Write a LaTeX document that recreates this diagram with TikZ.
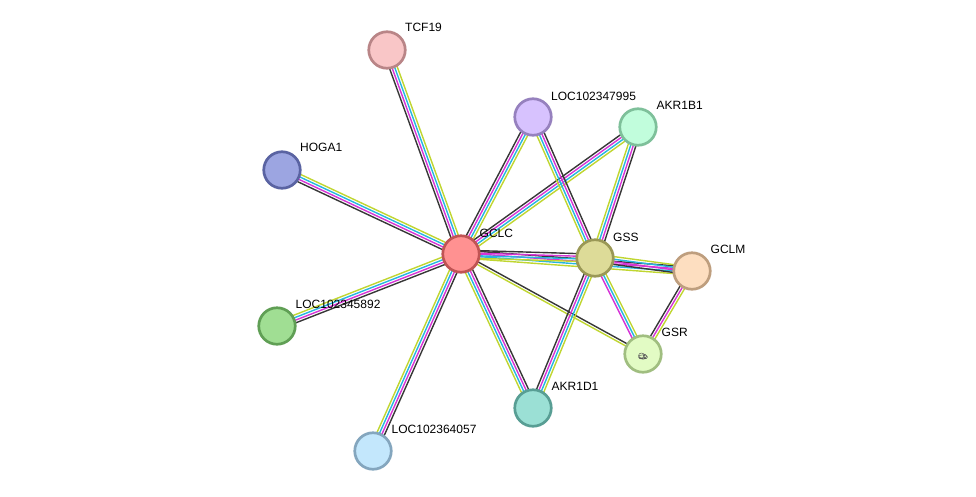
\documentclass[tikz,border=0pt]{standalone}
\usepackage{fontspec}
\setmainfont{Liberation Sans}
\usetikzlibrary{calc}
\pgfdeclarelayer{canvasbg}
\pgfdeclarelayer{edgelayer}
\pgfsetlayers{canvasbg,edgelayer,main}
\definecolor{ecoex}{RGB}{55,55,55}
\definecolor{eexp}{RGB}{214,52,214}
\definecolor{edb}{RGB}{38,182,224}
\definecolor{etext}{RGB}{192,214,48}
\tikzset{
  prot/.style={circle, line width=2.7pt, minimum size=36.5pt, inner sep=0pt},
  lbl/.style={anchor=west, inner sep=0pt, font=\fontsize{12pt}{14pt}\selectfont, text=black},
  edgeline/.style={line width=1.4pt},
}
\newcommand\stredge[3]{%
  \foreach \cc [count=\ii] in {#3} {\xdef\nnedge{\ii}}%
  \foreach \cc [count=\ii] in {#3} {%
    \pgfmathsetmacro\offe{(\ii-(\nnedge+1)/2)*2.6}%
    \draw[edgeline,\cc] ($(#1.center)!\offe pt!90:(#2.center)$) -- ($(#2.center)!\offe pt!-90:(#1.center)$);
  }}
\begin{document}
\begin{tikzpicture}[x=1pt,y=-1pt]
\begin{pgfonlayer}{canvasbg}
\fill[white] (0,0) rectangle (976,496);
\end{pgfonlayer}
\useasboundingbox (0,0) rectangle (976,496);
% nodes
\node[prot, fill={rgb,255:red,255;green,145;blue,145}, draw={rgb,255:red,192;green,84;blue,84}] (GCLC) at (461,254) {};
\node[prot, fill={rgb,255:red,221;green,219;blue,152}, draw={rgb,255:red,154;green,152;blue,86}] (GSS) at (595,258) {};
\node[prot, fill={rgb,255:red,253;green,222;blue,192}, draw={rgb,255:red,190;green,158;blue,126}] (GCLM) at (692,271) {};
\node[prot, fill={rgb,255:red,226;green,251;blue,196}, draw={rgb,255:red,160;green,190;blue,128}] (GSR) at (643,354) {};
\node[prot, fill={rgb,255:red,155;green,224;blue,213}, draw={rgb,255:red,88;green,158;blue,148}] (AKR1D1) at (533,408) {};
\node[prot, fill={rgb,255:red,193;green,253;blue,220}, draw={rgb,255:red,126;green,192;blue,154}] (AKR1B1) at (638,127) {};
\node[prot, fill={rgb,255:red,215;green,194;blue,254}, draw={rgb,255:red,150;green,129;blue,190}] (L7995) at (533,117) {};
\node[prot, fill={rgb,255:red,249;green,198;blue,199}, draw={rgb,255:red,185;green,133;blue,135}] (TCF19) at (387,50) {};
\node[prot, fill={rgb,255:red,156;green,165;blue,225}, draw={rgb,255:red,90;green,99;blue,162}] (HOGA1) at (282,170) {};
\node[prot, fill={rgb,255:red,160;green,222;blue,147}, draw={rgb,255:red,96;green,159;blue,85}] (L5892) at (277,326) {};
\node[prot, fill={rgb,255:red,195;green,231;blue,252}, draw={rgb,255:red,132;green,166;blue,190}] (L4057) at (373,451) {};
% GSR structure icon
\draw[gray!70!black, line width=0.45pt] (643,357) ellipse (4.5 and 2.2) (641.5,355.5) ellipse (3 and 2.5) (645,356) circle (1.8) (639,358.5) -- (647,358);
% labels
\node[lbl] (GCLC-l) at ($(GCLC)+(18.5,-21)$) {GCLC};
\node[lbl] (GSS-l) at ($(GSS)+(18,-21)$) {GSS};
\node[lbl] (GCLM-l) at ($(GCLM)+(18.5,-22)$) {GCLM};
\node[lbl] (GSR-l) at ($(GSR)+(18.5,-22)$) {GSR};
\node[lbl] (AKR1D1-l) at ($(AKR1D1)+(18.5,-22)$) {AKR1D1};
\node[lbl] (AKR1B1-l) at ($(AKR1B1)+(18.5,-22)$) {AKR1B1};
\node[lbl] (L7995-l) at ($(L7995)+(18,-21)$) {LOC102347995};
\node[lbl] (TCF19-l) at ($(TCF19)+(18,-22.5)$) {TCF19};
\node[lbl] (HOGA1-l) at ($(HOGA1)+(18,-22.5)$) {HOGA1};
\node[lbl] (L5892-l) at ($(L5892)+(18.5,-22)$) {LOC102345892};
\node[lbl] (L4057-l) at ($(L4057)+(18.5,-22)$) {LOC102364057};
% edges
\begin{pgfonlayer}{edgelayer}
\stredge{TCF19}{GCLC}{ecoex,eexp,edb,etext}
\stredge{HOGA1}{GCLC}{ecoex,eexp,edb,etext}
\stredge{L5892}{GCLC}{ecoex,eexp,edb,etext}
\stredge{L4057}{GCLC}{ecoex,eexp,edb,etext}
\stredge{AKR1D1}{GCLC}{ecoex,eexp,edb,etext}
\stredge{L7995}{GCLC}{ecoex,eexp,edb,etext}
\stredge{AKR1B1}{GCLC}{ecoex,eexp,edb,etext}
\stredge{GCLM}{GCLC}{ecoex,eexp,edb,etext}
\stredge{GSS}{GCLC}{ecoex,eexp,edb,etext}
\stredge{GSR}{GCLC}{ecoex,etext}
\stredge{GSS}{L7995}{ecoex,eexp,edb,etext}
\stredge{GSS}{AKR1B1}{ecoex,eexp,edb,etext}
\stredge{GSS}{AKR1D1}{ecoex,eexp,edb,etext}
\stredge{GSS}{GSR}{eexp,edb,etext}
\stredge{GSS}{GCLM}{ecoex,eexp,edb,etext}
\stredge{GCLM}{GSR}{ecoex,eexp,etext}
\end{pgfonlayer}
\end{tikzpicture}
\end{document}
